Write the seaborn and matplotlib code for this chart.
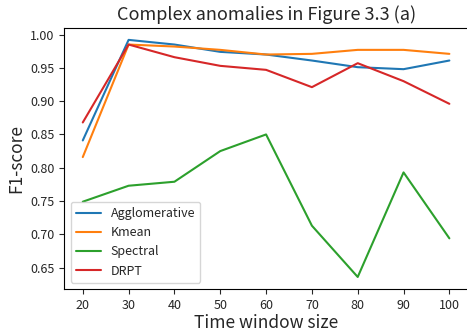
import matplotlib
matplotlib.use("Agg")
import matplotlib.pyplot as plt
import seaborn as sns
import pandas as pd

window = [20, 30, 40, 50, 60, 70, 80, 90, 100]
agglomerative = [0.841, 0.992, 0.985, 0.974, 0.970, 0.961, 0.951, 0.948, 0.961]
kmean = [0.816, 0.985, 0.982, 0.977, 0.970, 0.971, 0.977, 0.977, 0.971]
spectral = [0.749, 0.773, 0.779, 0.825, 0.850, 0.713, 0.636, 0.793, 0.694]
drpt = [0.868, 0.985, 0.966, 0.953, 0.947, 0.921, 0.957, 0.930, 0.896]
series_names = ["Agglomerative", "Kmean", "Spectral", "DRPT"]

df = pd.DataFrame({"window": window * 4,
                   "f1": agglomerative + kmean + spectral + drpt,
                   "method": [n for n in series_names for _ in window]})

sns.set_style("ticks", {"axes.edgecolor": "black"})
plt.rcParams['font.family'] = ['Noto Sans CJK KR', 'DejaVu Sans']

fig, ax = plt.subplots(figsize=(4.67, 3.36), dpi=100)
sns.lineplot(data=df, x="window", y="f1", hue="method", hue_order=series_names,
             palette=["#1f77b4", "#ff7f0e", "#2ca02c", "#d62728"], ax=ax, linewidth=1.5)
ax.set_xticks(window)
ax.set_yticks([0.65, 0.70, 0.75, 0.80, 0.85, 0.90, 0.95, 1.00])
ax.set_ylim(0.618, 1.010)
ax.set_xlim(16, 104)
ax.tick_params(labelsize=9)
ax.set_title("Complex anomalies in Figure 3.3 (a)", fontsize=13)
ax.set_xlabel("Time window size", fontsize=12.5, labelpad=2)
ax.set_ylabel("F1-score", fontsize=12.5)
ax.legend(loc="lower left", fontsize=9, title=None)
fig.subplots_adjust(left=0.138, right=1.0015, top=0.917, bottom=0.14)
fig.savefig("out.png", dpi=100)
